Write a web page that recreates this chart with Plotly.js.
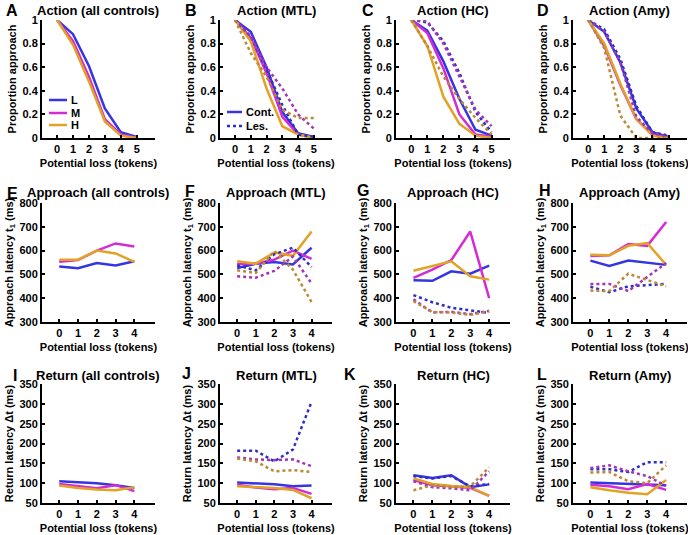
<!DOCTYPE html>
<html><head><meta charset="utf-8">
<script src="https://cdn.plot.ly/plotly-3.0.1.min.js"></script>
<style>html,body{margin:0;padding:0;background:#fff}#chart{width:688px;height:535px}</style>
</head><body><div id="chart"></div>
<script>
// ---------- DATA ----------
const lossAction = [0, 1, 2, 3, 4, 5];
const lossLatency = [0, 1, 2, 3, 4];

// Row 1: proportion approach
const actAll_L = [1, 0.88, 0.61, 0.25, 0.05, 0.01];
const actAll_M = [1, 0.82, 0.52, 0.16, 0.03, 0.0];
const actAll_H = [1, 0.79, 0.48, 0.14, 0.02, 0.0];

const actMTL_cL = [1, 0.9, 0.6, 0.22, 0.04, 0.01];
const actMTL_cM = [1, 0.85, 0.55, 0.18, 0.03, 0.0];
const actMTL_cH = [1, 0.82, 0.42, 0.1, 0.03, 0.0];
const actMTL_lL = [1, 0.86, 0.58, 0.28, 0.03, 0.01];
const actMTL_lM = [1, 0.86, 0.6, 0.42, 0.2, 0.08];
const actMTL_lH = [1, 0.72, 0.52, 0.24, 0.17, 0.17];

const actHC_cL = [1, 0.91, 0.65, 0.33, 0.07, 0.02];
const actHC_cM = [1, 0.89, 0.59, 0.2, 0.03, 0.01];
const actHC_cH = [1, 0.78, 0.35, 0.12, 0.02, 0.0];
const actHC_lL = [1, 0.98, 0.82, 0.55, 0.22, 0.05];
const actHC_lM = [1, 0.99, 0.8, 0.52, 0.24, 0.1];
const actHC_lH = [1, 0.78, 0.52, 0.33, 0.17, 0.03];

const actAmy_cL = [1, 0.9, 0.64, 0.25, 0.05, 0.01];
const actAmy_cM = [1, 0.78, 0.45, 0.16, 0.03, 0.0];
const actAmy_cH = [1, 0.8, 0.46, 0.16, 0.02, 0.0];
const actAmy_lL = [1, 0.92, 0.67, 0.27, 0.05, 0.02];
const actAmy_lM = [1, 0.9, 0.64, 0.18, 0.04, 0.01];
const actAmy_lH = [1, 0.76, 0.19, 0.0, 0.0, 0.0];

// Row 2: approach latency t1 (ms)
const appAll_L = [533, 526, 548, 537, 555];
const appAll_M = [553, 560, 600, 630, 617];
const appAll_H = [562, 562, 600, 588, 553];

const appMTL_cL = [527, 545, 552, 542, 612];
const appMTL_cM = [545, 545, 562, 600, 565];
const appMTL_cH = [555, 545, 592, 578, 680];
const appMTL_lL = [538, 517, 585, 612, 531];
const appMTL_lM = [492, 486, 515, 575, 462];
const appMTL_lH = [517, 506, 598, 520, 384];

const appHC_cL = [475, 473, 513, 503, 537];
const appHC_cM = [485, 520, 560, 680, 400];
const appHC_cH = [515, 535, 555, 492, 478];
const appHC_lL = [413, 383, 360, 348, 338];
const appHC_lM = [395, 340, 343, 333, 347];
const appHC_lH = [388, 342, 340, 330, 345];

const appAmy_cL = [558, 535, 558, 548, 540];
const appAmy_cM = [577, 580, 628, 620, 720];
const appAmy_cH = [583, 580, 620, 632, 540];
const appAmy_lL = [448, 425, 450, 455, 460];
const appAmy_lM = [460, 460, 430, 488, 548];
const appAmy_lH = [432, 430, 503, 475, 450];

// Row 3: return latency Δt (ms)
const retAll_L = [105, 103, 100, 95, 88];
const retAll_M = [98, 93, 87, 95, 80];
const retAll_H = [94, 88, 84, 82, 90];

const retMTL_cL = [102, 100, 97, 92, 94];
const retMTL_cM = [96, 89, 85, 88, 73];
const retMTL_cH = [92, 90, 88, 83, 62];
const retMTL_lL = [182, 182, 155, 185, 305];
const retMTL_lM = [165, 160, 158, 160, 143];
const retMTL_lH = [162, 155, 130, 133, 128];

const retHC_cL = [120, 113, 120, 90, 97];
const retHC_cM = [108, 95, 92, 88, 68];
const retHC_cH = [112, 98, 93, 90, 68];
const retHC_lL = [118, 112, 118, 92, 98];
const retHC_lM = [105, 90, 87, 82, 130];
const retHC_lH = [82, 95, 90, 92, 140];

const retAmy_cL = [102, 100, 98, 97, 95];
const retAmy_cM = [96, 92, 85, 98, 83];
const retAmy_cH = [90, 82, 76, 72, 108];
const retAmy_lL = [135, 135, 128, 153, 153];
const retAmy_lM = [138, 145, 130, 118, 93];
const retAmy_lH = [127, 128, 105, 100, 145];

// Labels
const panelTitles = ['Action (all controls)', 'Action (MTL)', 'Action (HC)', 'Action (Amy)',
  'Approach (all controls)', 'Approach (MTL)', 'Approach (HC)', 'Approach (Amy)',
  'Return (all controls)', 'Return (MTL)', 'Return (HC)', 'Return (Amy)'];
const panelLetters = ['A','B','C','D','E','F','G','H','I','J','K','L'];
const levelNames = ['L', 'M', 'H'];
const groupNames = ['Cont.', 'Les.'];
const yTicksAction = [0, 0.2, 0.4, 0.6, 0.8, 1];
const yTickTextAction = ['0', '0.2', '0.4', '0.6', '0.8', '1'];
const yTicksApproach = [300, 400, 500, 600, 700, 800];
const yTicksReturn = [50, 100, 150, 200, 250, 300, 350];
const yTitles = ['Proportion approach', 'Approach latency t<sub>1</sub> (ms)', 'Return latency Δt (ms)'];
const xTitle = 'Potential loss (tokens)';

// ---------- STYLE ----------
const FONT = 'Liberation Sans, Arial, Helvetica, sans-serif';
const COL = ['#3535E2', '#D42CD4', '#E2A226'];
const LES = ['#3030C0', '#A236B6', '#BA8A36'];
const colDom = [[0.061, 0.2253], [0.3198, 0.4826], [0.5756, 0.7413], [0.8328, 0.9985]];
const rowDom = [[0.742, 0.9626], [0.3981, 0.6206], [0.0598, 0.2822]];
const W = 688, H = 535;

const panels = [
  {x: lossAction, c: [actAll_L, actAll_M, actAll_H], l: null},
  {x: lossAction, c: [actMTL_cL, actMTL_cM, actMTL_cH], l: [actMTL_lL, actMTL_lM, actMTL_lH]},
  {x: lossAction, c: [actHC_cL, actHC_cM, actHC_cH], l: [actHC_lL, actHC_lM, actHC_lH]},
  {x: lossAction, c: [actAmy_cL, actAmy_cM, actAmy_cH], l: [actAmy_lL, actAmy_lM, actAmy_lH]},
  {x: lossLatency, c: [appAll_L, appAll_M, appAll_H], l: null},
  {x: lossLatency, c: [appMTL_cL, appMTL_cM, appMTL_cH], l: [appMTL_lL, appMTL_lM, appMTL_lH]},
  {x: lossLatency, c: [appHC_cL, appHC_cM, appHC_cH], l: [appHC_lL, appHC_lM, appHC_lH]},
  {x: lossLatency, c: [appAmy_cL, appAmy_cM, appAmy_cH], l: [appAmy_lL, appAmy_lM, appAmy_lH]},
  {x: lossLatency, c: [retAll_L, retAll_M, retAll_H], l: null},
  {x: lossLatency, c: [retMTL_cL, retMTL_cM, retMTL_cH], l: [retMTL_lL, retMTL_lM, retMTL_lH]},
  {x: lossLatency, c: [retHC_cL, retHC_cM, retHC_cH], l: [retHC_lL, retHC_lM, retHC_lH]},
  {x: lossLatency, c: [retAmy_cL, retAmy_cM, retAmy_cH], l: [retAmy_lL, retAmy_lM, retAmy_lH]}
];

const traces = [];
const layout = {
  width: W, height: H, margin: {l: 0, r: 0, t: 0, b: 0},
  paper_bgcolor: '#fff', plot_bgcolor: 'rgba(0,0,0,0)', showlegend: false,
  font: {family: FONT, color: '#000', size: 11, weight: 'bold'},
  annotations: [], shapes: []
};

panels.forEach((p, i) => {
  const row = Math.floor(i / 4), col = i % 4;
  const xa = i === 0 ? 'x' : 'x' + (i + 1);
  const ya = i === 0 ? 'y' : 'y' + (i + 1);
  const xk = i === 0 ? 'xaxis' : 'xaxis' + (i + 1);
  const yk = i === 0 ? 'yaxis' : 'yaxis' + (i + 1);
  p.c.forEach((ys, k) => {
    traces.push({type: 'scatter', mode: 'lines', x: p.x, y: ys, xaxis: xa, yaxis: ya,
      name: levelNames[k] + ' ' + groupNames[0], line: {color: COL[k], width: 2.5}, hoverinfo: 'skip'});
  });
  if (p.l) p.l.forEach((ys, k) => {
    traces.push({type: 'scatter', mode: 'lines', x: p.x, y: ys, xaxis: xa, yaxis: ya,
      name: levelNames[k] + ' ' + groupNames[1], line: {color: LES[k], width: 2.5, dash: 'dot'}, hoverinfo: 'skip'});
  });
  const axBase = {showline: true, linewidth: 2, linecolor: '#000', ticks: 'inside', ticklen: 3,
    tickwidth: 2, tickcolor: '#000', showgrid: false, zeroline: false,
    tickfont: {family: FONT, size: 11, color: '#000', weight: 'bold'}};
  layout[xk] = Object.assign({}, axBase, {
    domain: colDom[col], anchor: ya,
    range: row === 0 ? [-0.95, 6.15] : [-0.92, 5.1],
    tickvals: p.x, ticktext: p.x.map(String),
    title: {text: xTitle, font: {family: FONT, size: 11, color: '#000', weight: 'bold'}, standoff: 5}
  });
  let yr, tv, tt;
  if (row === 0) { yr = [0, 1]; tv = yTicksAction; tt = yTickTextAction; }
  else if (row === 1) { yr = [300, 800]; tv = yTicksApproach; tt = yTicksApproach.map(String); }
  else { yr = [50, 350]; tv = yTicksReturn; tt = yTicksReturn.map(String); }
  layout[yk] = Object.assign({}, axBase, {
    domain: rowDom[row], anchor: xa, range: yr, tickvals: tv, ticktext: tt,
    title: {text: yTitles[row], font: {family: FONT, size: 11, color: '#000', weight: 'bold'}, standoff: 4}
  });
  const titleY = [0.981, 0.6393, 0.299][row];
  layout.annotations.push({xref: 'paper', yref: 'paper', x: (colDom[col][0] + colDom[col][1]) / 2, y: titleY,
    xanchor: 'center', yanchor: 'middle', showarrow: false, text: panelTitles[i],
    font: {family: FONT, size: 13, color: '#000', weight: 'bold'}});
});

// panel letters
const letterPx = [[12, 10], [191, 10], [368, 10], [543, 10], [12, 193], [190, 192], [363, 190], [545, 190],
  [15, 375], [186, 373], [350, 374], [542, 374]];
letterPx.forEach((pt, i) => {
  layout.annotations.push({xref: 'paper', yref: 'paper', x: pt[0] / W, y: 1 - pt[1] / H,
    xanchor: 'center', yanchor: 'middle', showarrow: false, text: panelLetters[i],
    font: {family: FONT, size: 16, color: '#000', weight: 'bold'}});
});

// legends (key swatches drawn in panels A and B)
function legendEntry(x0, x1, yPx, color, dash, label) {
  layout.shapes.push({type: 'line', xref: 'paper', yref: 'paper', x0: x0 / W, x1: x1 / W,
    y0: 1 - yPx / H, y1: 1 - yPx / H, line: {color: color, width: 2.5, dash: dash}});
  layout.annotations.push({xref: 'paper', yref: 'paper', x: (x1 + 2) / W, y: 1 - yPx / H,
    xanchor: 'left', yanchor: 'middle', showarrow: false, text: label,
    font: {family: FONT, size: 11, color: '#000', weight: 'bold'}});
}
levelNames.forEach((n, k) => legendEntry(49, 67, [100, 113, 125][k], COL[k], 'solid', n));
legendEntry(227, 242, 112, COL[0], 'solid', groupNames[0]);
legendEntry(227, 242, 126, LES[0], 'dot', groupNames[1]);

Plotly.newPlot('chart', traces, layout, {staticPlot: true, displayModeBar: false});
</script></body></html>
